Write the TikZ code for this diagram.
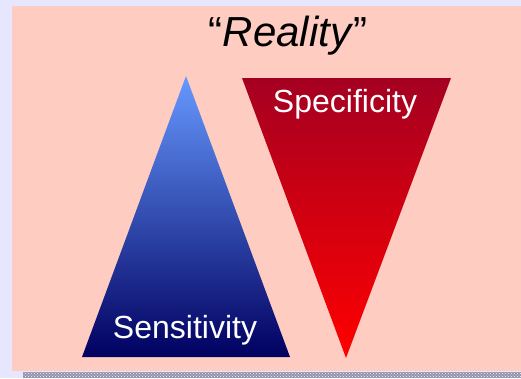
\documentclass[tikz,border=0pt]{standalone}
\usepackage{fontspec}
\setmainfont{Liberation Sans}
\usetikzlibrary{patterns}
\definecolor{lav}{HTML}{E6E6FF}
\definecolor{pinkbg}{HTML}{FFCCC2}
\definecolor{bluetop}{HTML}{6699FF}
\definecolor{bluebot}{HTML}{000060}
\definecolor{redtop}{HTML}{A50021}
\definecolor{redbot}{HTML}{FF0000}
\definecolor{strip}{HTML}{9494AC}
\tikzset{
  lbl/.style={text=white, font=\fontsize{32}{36}\selectfont, inner sep=0pt, anchor=base},
  ttl/.style={text=black, font=\fontsize{42}{48}\selectfont, inner sep=0pt, anchor=base}
}
\begin{document}
\begin{tikzpicture}[x=1pt,y=-1pt]
\useasboundingbox (0,0) rectangle (521,378);
\fill[lav] (0,0) rectangle (521,378);
\fill[pinkbg] (12,6) rectangle (521,371);
\fill[strip] (23,372) rectangle (521,378);
\fill[pattern=crosshatch dots, pattern color=white!60!lav] (23,372) rectangle (521,378);
\coordinate (bA) at (186,76);
\coordinate (bL) at (82,357);
\coordinate (bR) at (290,357);
\coordinate (rL) at (242,78);
\coordinate (rR) at (451,78);
\coordinate (rA) at (346,358);
\shade[top color=bluetop, bottom color=bluebot] (bA) -- (bR) -- (bL) -- cycle;
\shade[top color=redtop, bottom color=redbot] (rL) -- (rR) -- (rA) -- cycle;
\node[ttl] (title) at (288,46) {“\textit{Reality}”};
\node[lbl] (spec) at (345,112) {Specificity};
\node[lbl] (sens) at (185,338) {Sensitivity};
\end{tikzpicture}
\end{document}
